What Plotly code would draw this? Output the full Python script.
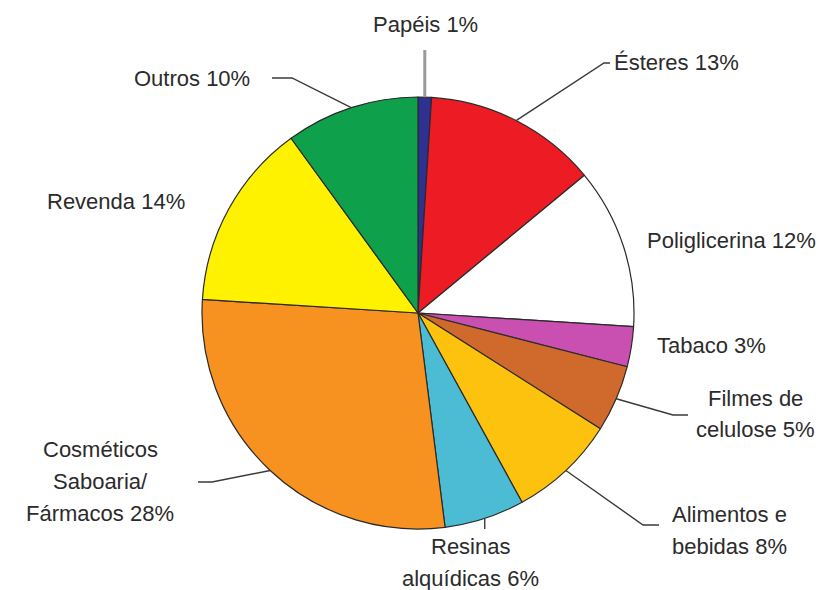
import math
import plotly.graph_objects as go

# ---------------- data ----------------
labels = ["Papéis", "Ésteres", "Poliglicerina", "Tabaco", "Filmes de celulose",
          "Alimentos e bebidas", "Resinas alquídicas",
          "Cosméticos Saboaria/ Fármacos", "Revenda", "Outros"]
values = [1, 13, 12, 3, 5, 8, 6, 28, 14, 10]
label_lines = [["Papéis"], ["Ésteres"], ["Poliglicerina"], ["Tabaco"],
               ["Filmes de", "celulose"], ["Alimentos e", "bebidas"],
               ["Resinas", "alquídicas"], ["Cosméticos", "Saboaria/", "Fármacos"],
               ["Revenda"], ["Outros"]]
colors = ["#2e3192", "#ed1c24", "#ffffff", "#c94fb0", "#d0692c",
          "#fdc20e", "#4bbcd4", "#f7911f", "#fff200", "#0fa04b"]

# ---------------- layout (pixels) ----------------
W, H = 836, 590
CX, CY, R = 418, 313, 216
LINE_GAP = 32

# text position (x, y of first line, anchor) and leader-line bend points
label_layout = [
    dict(x=425, y=24, xa="center", leader=[(None, 50)], lc="#9a9a9a", lw=3),
    dict(x=612, y=62, xa="left", leader=[(604, 63), (610, 63)]),
    dict(x=645, y=240, xa="left", leader=[]),
    dict(x=655, y=345, xa="left", leader=[]),
    dict(x=755, y=398, xa="center", leader=[(673, 415), (688, 415)]),
    dict(x=729, y=514, xa="center", leader=[(643, 525), (659, 525)]),
    dict(x=470, y=546, xa="center", leader=[(None, 529)]),
    dict(x=100, y=449, xa="center", leader=[(212, 482), (198, 482)]),
    dict(x=187, y=201, xa="right", leader=[]),
    dict(x=252, y=78, xa="right", leader=[(292, 78), (272, 78)]),
]


def to_paper(x, y):
    return x / W, 1 - y / H


fig = go.Figure(go.Pie(
    labels=labels, values=values, sort=False, direction="clockwise", rotation=0,
    marker=dict(colors=colors, line=dict(color="#2a2a2a", width=1.2)),
    textinfo="none", hoverinfo="label+percent", showlegend=False,
    domain=dict(x=[(CX - R) / W, (CX + R) / W], y=[1 - (CY + R) / H, 1 - (CY - R) / H]),
))

total = sum(values)
cum = 0
shapes, annotations = [], []
for v, lines, lay in zip(values, label_lines, label_layout):
    mid = (cum + v / 2) / total * 2 * math.pi
    cum += v
    ex, ey = CX + R * math.sin(mid), CY - R * math.cos(mid)
    pts = [(ex, ey)]
    for (lx, ly) in lay["leader"]:
        pts.append((pts[-1][0] if lx is None else lx, ly))
    if len(pts) > 1:
        path = ""
        for i, (x, y) in enumerate(pts):
            px_, py_ = to_paper(x, y)
            path += ("M" if i == 0 else "L") + f"{px_:.5f},{py_:.5f} "
        shapes.append(dict(type="path", path=path, xref="paper", yref="paper",
                           line=dict(color=lay.get("lc", "#3a3a3a"), width=lay.get("lw", 1.4))))
    text_lines = lines[:-1] + [f"{lines[-1]} {v}%"]
    for i, t in enumerate(text_lines):
        ax, ay = to_paper(lay["x"], lay["y"] + i * LINE_GAP)
        annotations.append(dict(x=ax, y=ay, xref="paper", yref="paper", text=t,
                                showarrow=False, xanchor=lay["xa"], yanchor="middle",
                                font=dict(family="Liberation Sans, Arial, sans-serif",
                                          size=22, color="#2b2b2b")))

fig.update_layout(width=W, height=H, margin=dict(l=0, r=0, t=0, b=0),
                  paper_bgcolor="white", plot_bgcolor="white",
                  shapes=shapes, annotations=annotations)
fig.write_html("out.html", config={"displayModeBar": False},
               post_script="document.body.style.margin='0';document.body.style.overflow='hidden';")
